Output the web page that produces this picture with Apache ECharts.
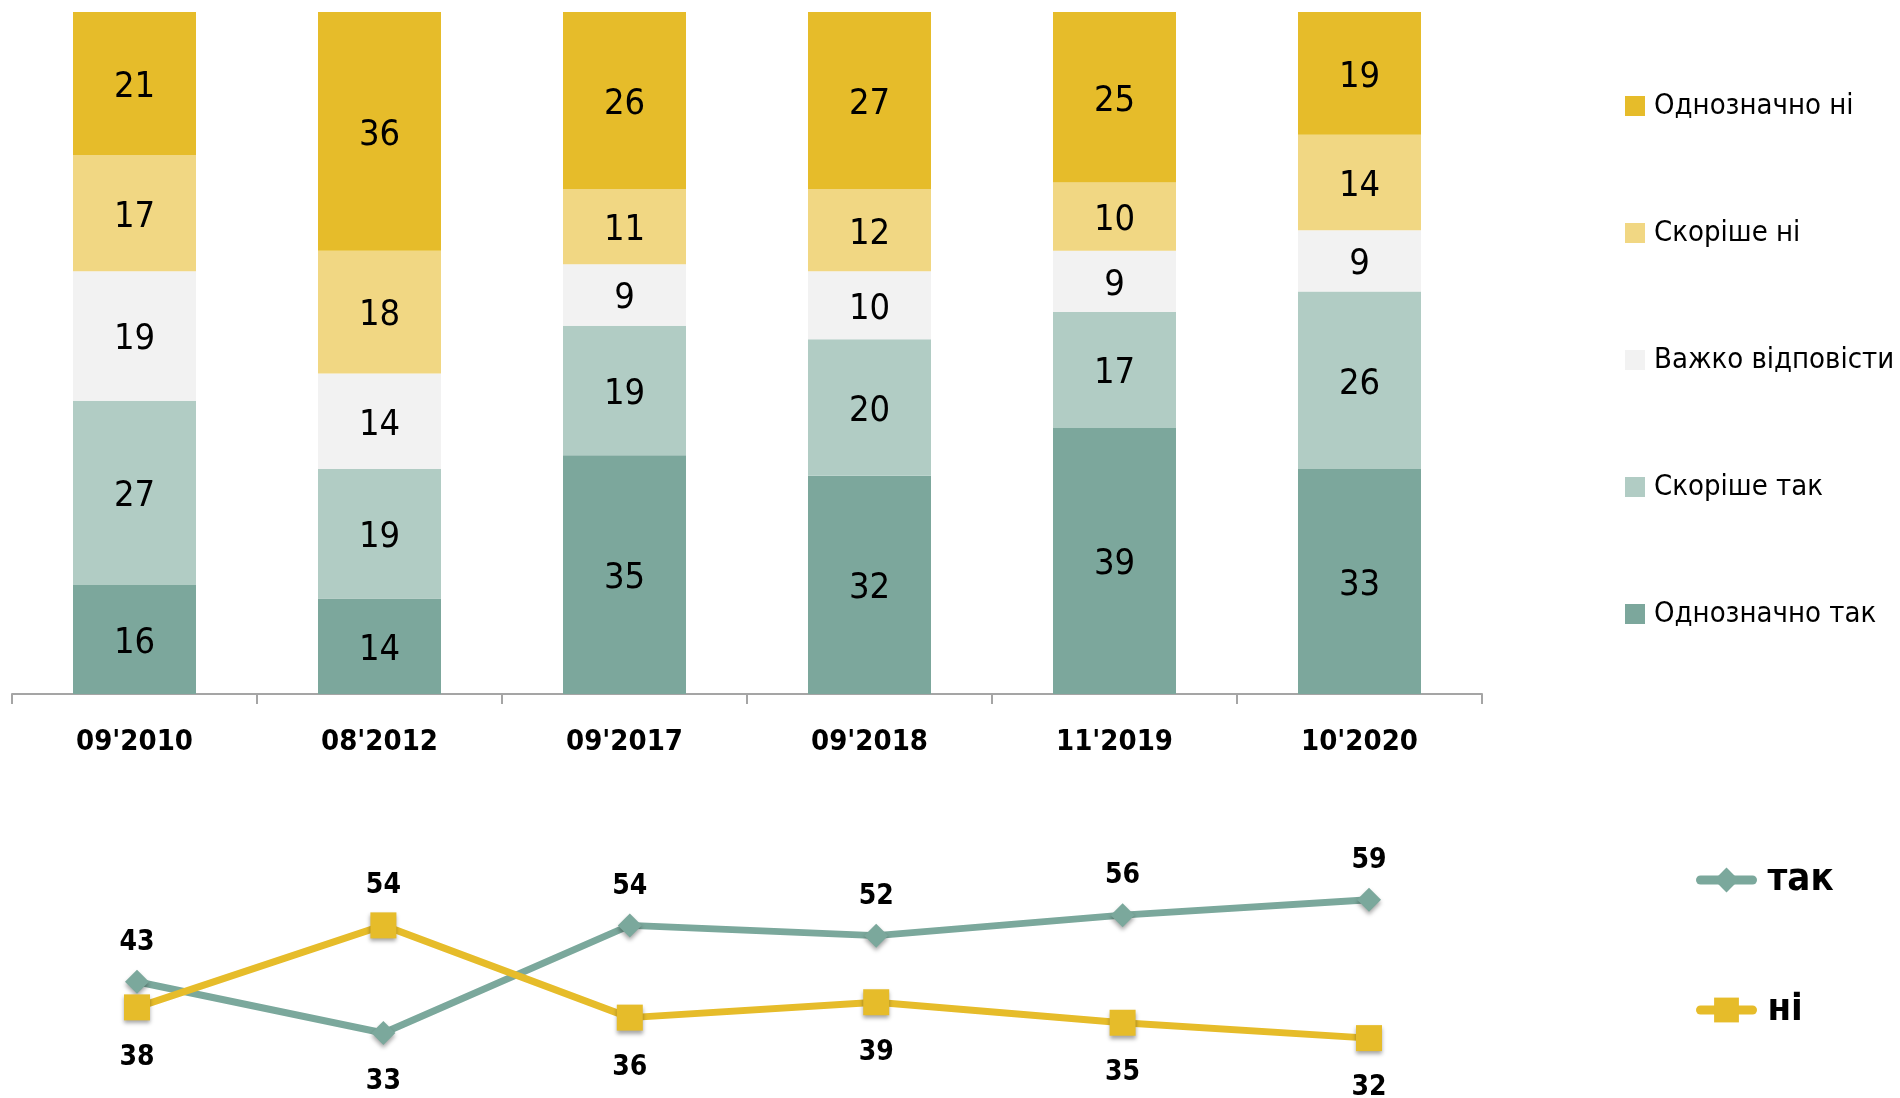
<!DOCTYPE html>
<html>
<head>
<meta charset="utf-8">
<script src="https://cdn.jsdelivr.net/npm/echarts@6.0.0/dist/echarts.min.js"></script>
<style>
html,body{margin:0;padding:0;background:#fff;}
#chart{width:1900px;height:1098px;}
</style>
</head>
<body>
<div id="chart"></div>
<script>
var categories = ["09'2010", "08'2012", "09'2017", "09'2018", "11'2019", "10'2020"];
var odnoznachnoTak = [16, 14, 35, 32, 39, 33];
var skorisheTak = [27, 19, 19, 20, 17, 26];
var vazhko = [19, 14, 9, 10, 9, 9];
var skorisheNi = [17, 18, 11, 12, 10, 14];
var odnoznachnoNi = [21, 36, 26, 27, 25, 19];
var tak = [43, 33, 54, 52, 56, 59];
var ni = [38, 54, 36, 39, 35, 32];

var font = "'Liberation Sans Narrow', 'Arial Narrow', 'DejaVu Sans Condensed', sans-serif";
var green = '#7ba89c', yellow = '#e6bc2a';

function barSeries(name, data, color) {
    return {
        name: name,
        type: 'bar',
        stack: 'all',
        barWidth: 123,
        data: data,
        itemStyle: { color: color },
        label: {
            show: true,
            position: 'inside',
            offset: [0, 4],
            color: '#000',
            fontFamily: font,
            fontSize: 36
        }
    };
}

// label goes on the side where the line is higher
function lineSeries(name, data, other, color, symbol, size) {
    return {
        name: name,
        type: 'line',
        xAxisIndex: 1,
        yAxisIndex: 1,
        symbol: symbol,
        symbolSize: size,
        data: data.map(function (v, i) {
            var up = v >= other[i];
            return { value: v, label: { position: up ? 'top' : 'bottom', distance: up ? 16 : 20 } };
        }),
        lineStyle: { color: color, width: 7 },
        itemStyle: {
            color: color,
            shadowBlur: 4,
            shadowColor: 'rgba(0,0,0,0.35)',
            shadowOffsetY: 3
        },
        label: {
            show: true,
            offset: [0, 3],
            color: '#000',
            fontFamily: font,
            fontWeight: 'bold',
            fontSize: 28
        }
    };
}

var chart = echarts.init(document.getElementById('chart'));
var option = {
    animation: false,
    backgroundColor: '#fff',
    grid: [
        { left: 12, right: 418, top: 12, bottom: 404 },
        { left: 137, right: 531, top: 869, bottom: 24 }
    ],
    legend: [
        {
            orient: 'vertical',
            left: 1625,
            top: 88,
            padding: 0,
            itemWidth: 20,
            itemHeight: 20,
            itemGap: 91,
            icon: 'rect',
            data: ['Однозначно ні', 'Скоріше ні', 'Важко відповісти', 'Скоріше так', 'Однозначно так'],
            textStyle: { fontFamily: font, fontSize: 29, lineHeight: 36, color: '#000', padding: [0, 0, 0, 4] }
        },
        {
            orient: 'vertical',
            left: 1696,
            top: 858,
            padding: 0,
            itemWidth: 52,
            itemHeight: 31,
            itemGap: 86,
            data: ['так', 'ні'],
            lineStyle: { width: 9, cap: 'round' },
            itemStyle: { shadowBlur: 0, shadowOffsetY: 0 },
            textStyle: { fontFamily: font, fontSize: 38, fontWeight: 'bold', lineHeight: 44, color: '#000', padding: [0, 0, 0, 10] }
        }
    ],
    xAxis: [
        {
            type: 'category',
            data: categories,
            axisLine: { lineStyle: { color: '#a5a5a5', width: 2 } },
            axisTick: { show: true, length: 10, lineStyle: { color: '#a5a5a5', width: 2 } },
            axisLabel: { margin: 34, color: '#000', fontFamily: font, fontWeight: 'bold', fontSize: 29 }
        },
        {
            type: 'category',
            gridIndex: 1,
            boundaryGap: false,
            data: categories,
            show: false
        }
    ],
    yAxis: [
        { type: 'value', min: 0, max: 100, show: false },
        { type: 'value', gridIndex: 1, min: 25, max: 65, show: false }
    ],
    series: [
        barSeries('Однозначно так', odnoznachnoTak, '#7ca79c'),
        barSeries('Скоріше так', skorisheTak, '#b1ccc4'),
        barSeries('Важко відповісти', vazhko, '#f2f2f2'),
        barSeries('Скоріше ні', skorisheNi, '#f1d783'),
        barSeries('Однозначно ні', odnoznachnoNi, '#e6bc2a'),
        lineSeries('так', tak, ni, green, 'diamond', 24),
        lineSeries('ні', ni, tak, yellow, 'rect', 26)
    ]
};
chart.setOption(option);
</script>
</body>
</html>
